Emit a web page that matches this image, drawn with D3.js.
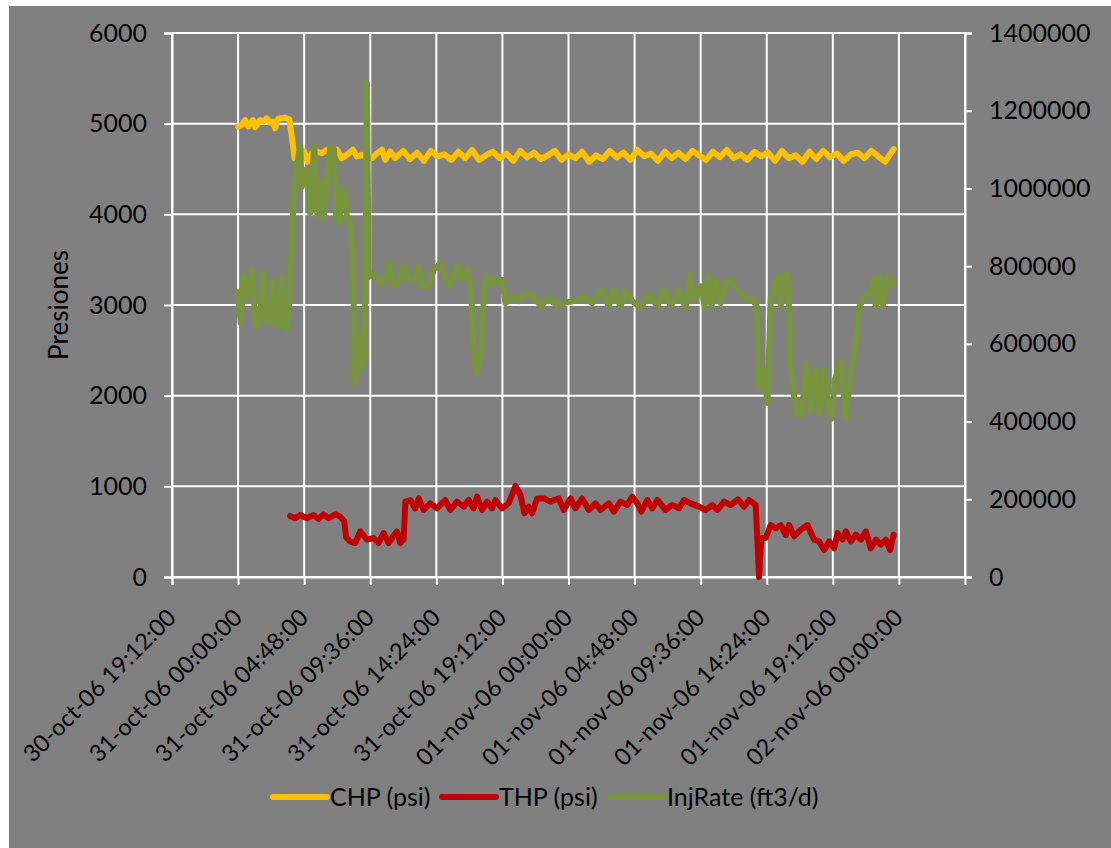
<!DOCTYPE html>
<html>
<head>
<meta charset="utf-8">
<script src="https://cdn.jsdelivr.net/npm/d3@7"></script>
<style>
  body { margin: 0; background: #fff; }
  svg { display: block; }
  text { font-family: Lato, "Open Sans", sans-serif; fill: #000; }
</style>
</head>
<body>
<svg class="chart" width="1111" height="848"></svg>
<script>
// hours after 31-oct-06 00:00
var chpHours = [0, 0.27, 0.51, 0.75, 1.07, 1.24, 1.6, 1.84, 2.08, 2.33, 2.52, 2.69, 2.93, 3.42, 3.73, 3.9, 4.1, 4.27, 4.51, 4.8,
    5.04, 5.36, 5.72, 6.08, 6.45, 6.81, 7.18, 7.54, 7.9, 8.34, 8.63, 9.0, 9.36, 9.72, 10.09, 10.45, 10.69, 11.05, 11.42,
    12.0, 12.5, 13.0, 13.5, 14.0, 14.5, 15.0, 15.5, 16.0, 16.5, 17.0, 17.5, 18.0, 18.5, 19.0, 19.5, 20.0, 20.5, 21.0, 21.5,
    22.0, 22.5, 23.0, 23.5, 24.0, 24.5, 25.0, 25.5, 26.0, 26.5, 27.0, 27.5, 28.0, 28.5, 29.0, 29.5, 30.0, 30.5, 31.0, 31.5,
    32.0, 32.5, 33.0, 33.5, 34.0, 34.5, 35.0, 35.5, 36.0, 36.5, 37.0, 37.5, 38.0, 38.5, 39.0, 39.5, 40.0, 40.5, 41.0, 41.5,
    42.0, 42.5, 43.0, 43.5, 44.0, 44.5, 45.0, 45.5, 46.0, 46.5, 47.0, 47.3, 47.62];
var chp = [4967, 4985, 5040, 4967, 5040, 4960, 5040, 5022, 5058, 5011, 5022, 4949, 5058, 5065, 5047, 4857, 4620, 4675, 4712, 4693,
    4580, 4675, 4693, 4675, 4712, 4638, 4712, 4620, 4656, 4712, 4638, 4656, 4620, 4620, 4675, 4712, 4600, 4693, 4620,
    4700, 4610, 4680, 4590, 4700, 4640, 4660, 4600, 4690, 4620, 4710, 4600, 4650, 4690, 4620, 4670, 4590, 4700, 4630, 4680,
    4610, 4650, 4700, 4600, 4660, 4620, 4690, 4580, 4650, 4610, 4700, 4630, 4680, 4600, 4710, 4640, 4670, 4590, 4690, 4620,
    4680, 4610, 4700, 4650, 4600, 4690, 4630, 4710, 4620, 4660, 4600, 4690, 4640, 4680, 4590, 4700, 4620, 4650, 4580, 4690,
    4610, 4700, 4630, 4670, 4590, 4660, 4680, 4620, 4700, 4640, 4580, 4650, 4720];

var thpHours = [3.78, 4.15, 4.51, 5.0, 5.48, 5.84, 6.21, 6.57, 7.05, 7.42, 7.71, 7.85, 8.15, 8.51, 8.87, 9.36, 9.84, 10.2, 10.57,
    10.93, 11.18, 11.54, 11.78, 12.02, 12.15, 12.51, 12.87, 13.12, 13.48, 13.96, 14.45, 15.05, 15.42, 15.9, 16.39, 16.75,
    17.11, 17.36, 17.72, 18.09, 18.45, 18.69, 19.18, 19.66, 20.15, 20.51, 20.8, 21.12, 21.36, 21.72, 22.21, 22.69, 23.3,
    23.66, 24.15, 24.51, 24.99, 25.48, 25.96, 26.33, 26.93, 27.3, 27.78, 28.27, 28.63, 29.0, 29.29, 29.72, 30.09, 30.45,
    31.05, 31.53, 32.02, 32.39, 32.87, 33.48, 33.96, 34.45, 34.81, 35.3, 35.78, 36.31, 36.75, 37.12, 37.6, 37.84, 38.01,
    38.33, 38.69, 39.05, 39.42, 39.78, 40.02, 40.39, 40.87, 41.36, 41.84, 42.2, 42.57, 42.94, 43.3, 43.54, 43.91, 44.15,
    44.51, 44.87, 45.24, 45.6, 45.96, 46.33, 46.69, 47.05, 47.36, 47.62];
var thp = [673, 648, 684, 648, 684, 640, 691, 648, 691, 666, 615, 438, 390, 375, 504, 412, 430, 375, 485,
    375, 430, 504, 375, 412, 831, 849, 757, 867, 739, 812, 757, 849, 739, 831, 776, 849,
    757, 886, 739, 831, 757, 849, 757, 812, 1004, 904, 702, 776, 702, 867, 867, 831, 867,
    739, 867, 757, 867, 739, 812, 739, 812, 721, 831, 794, 886, 812, 721, 849, 757, 849,
    739, 794, 757, 849, 812, 776, 739, 794, 739, 831, 794, 856, 776, 849, 794, 0, 430,
    430, 573, 537, 573, 463, 573, 449, 522, 573, 412, 393, 298, 393, 316, 485, 412, 504,
    393, 467, 412, 504, 316, 412, 357, 412, 298, 467];

var injHours = [0, 0.19, 0.39, 0.63, 1.0, 1.31, 1.6, 1.84, 2.08, 2.33, 2.52, 2.69, 2.93, 3.18, 3.35, 3.54, 3.73, 4.02, 4.27,
    4.51, 4.63, 4.87, 5.04, 5.24, 5.53, 5.77, 6.01, 6.21, 6.69, 6.98, 7.13, 7.37, 7.54, 7.73, 7.9, 8.2, 8.34, 8.51, 8.68,
    8.87, 9.07, 9.19, 9.36, 9.48, 9.84, 10.33, 10.69, 11.05, 11.3, 11.78, 12.02, 12.39, 12.75, 13.12, 13.36, 13.84, 14.2,
    14.69, 15.05, 15.42, 15.9, 16.27, 16.63, 16.92, 17.11, 17.36, 17.65, 17.89, 18.13, 18.45, 18.81, 19.18, 19.42, 19.9,
    20.39, 20.87, 21.48, 21.96, 22.57, 23.18, 23.66, 24.39, 25.12, 25.72, 26.2, 26.45, 26.93, 27.3, 27.78, 28.15, 28.63,
    29.24, 29.84, 30.45, 30.93, 31.42, 32.02, 32.51, 32.83, 33.11, 33.6, 33.89, 34.13, 34.38, 34.69, 35.05, 35.42, 35.78,
    36.27, 36.75, 37.36, 37.67, 37.84, 38.2, 38.45, 38.69, 38.93, 39.18, 39.42, 39.67, 39.96, 40.15, 40.39, 40.63, 40.92,
    41.31, 41.6, 41.96, 42.2, 42.57, 42.81, 43.1, 43.35, 43.78, 44.15, 44.51, 44.8, 45.04, 45.48, 45.96, 46.16, 46.33,
    46.57, 46.82, 47.13, 47.3, 47.62];
var injRate = [733000, 654000, 772000, 720000, 790000, 643000, 670000, 785000, 660000, 654000, 760000, 660000, 643000, 772000, 654000, 636000, 705000, 962000, 1055000,
    1112000, 1004000, 1047000, 1030000, 937000, 1112000, 927000, 1014000, 924000, 1104000, 1100000, 927000, 910000, 1001000, 995000, 927000, 914000, 790000, 499000, 618000,
    533000, 618000, 550000, 1271000, 772000, 782000, 756000, 765000, 808000, 748000, 765000, 800000, 765000, 765000, 800000, 748000, 748000, 790000,
    808000, 774000, 748000, 800000, 765000, 796000, 748000, 576000, 525000, 576000, 748000, 774000, 752000, 765000, 765000, 705000, 722000,
    710000, 731000, 722000, 697000, 718000, 697000, 705000, 710000, 722000, 705000, 727000, 739000, 697000, 739000, 697000, 735000, 710000,
    693000, 727000, 697000, 739000, 697000, 735000, 693000, 777000, 714000, 748000, 697000, 774000, 697000, 765000, 705000, 756000, 765000,
    739000, 718000, 714000, 697000, 489000, 533000, 448000, 722000, 731000, 774000, 697000, 777000, 774000, 540000, 463000, 415000, 420000,
    545000, 428000, 537000, 420000, 533000, 455000, 407000, 508000, 554000, 407000, 525000, 576000, 687000, 722000, 731000, 765000, 697000,
    774000, 697000, 774000, 748000, 760000];

var xTicks = ["2006-10-30T19:12:00Z", "2006-10-31T00:00:00Z", "2006-10-31T04:48:00Z", "2006-10-31T09:36:00Z",
    "2006-10-31T14:24:00Z", "2006-10-31T19:12:00Z", "2006-11-01T00:00:00Z", "2006-11-01T04:48:00Z",
    "2006-11-01T09:36:00Z", "2006-11-01T14:24:00Z", "2006-11-01T19:12:00Z", "2006-11-02T00:00:00Z"];
var xEnd = "2006-11-02T04:48:00Z";
var leftTicks = [0, 1000, 2000, 3000, 4000, 5000, 6000];
var rightTicks = [0, 200000, 400000, 600000, 800000, 1000000, 1200000, 1400000];

var series = [
    { name: "CHP (psi)", color: "#FFC000", hours: chpHours, values: chp, axis: "left" },
    { name: "THP (psi)", color: "#C00000", hours: thpHours, values: thp, axis: "left" },
    { name: "InjRate (ft3/d)", color: "#77933C", hours: injHours, values: injRate, axis: "right" }
];

var svg = d3.select(".chart"),
    margin = { top: 33, right: 146, bottom: 271, left: 172 },
    width = +svg.attr("width") - margin.left - margin.right,
    height = +svg.attr("height") - margin.top - margin.bottom;

var base = Date.UTC(2006, 9, 31, 0, 0, 0);
var tickDates = xTicks.map(function(s) { return new Date(s); });

var x = d3.scaleUtc().domain([tickDates[0], new Date(xEnd)]).range([0, width]),
    yL = d3.scaleLinear().domain([0, 6000]).range([height, 0]),
    yR = d3.scaleLinear().domain([0, 1400000]).range([height, 0]);

var fmt = d3.utcFormat("%d-%b-%y %H:%M:%S");
var fontSize = "25px";

svg.append("rect")
    .attr("x", 9).attr("y", 6)
    .attr("width", 1111 - 9).attr("height", 848 - 6)
    .attr("fill", "#808080");

var g = svg.append("g")
    .attr("transform", "translate(" + margin.left + "," + margin.top + ")");

// gridlines
g.append("g").attr("class", "grid")
    .selectAll("line")
    .data(tickDates.concat([new Date(xEnd)]))
    .enter().append("line")
    .attr("x1", function(d) { return x(d); })
    .attr("x2", function(d) { return x(d); })
    .attr("y1", 0).attr("y2", height)
    .attr("stroke", "#fff").attr("stroke-width", 2);

g.append("g").attr("class", "grid")
    .selectAll("line")
    .data(leftTicks)
    .enter().append("line")
    .attr("x1", 0).attr("x2", width)
    .attr("y1", function(d) { return yL(d); })
    .attr("y2", function(d) { return yL(d); })
    .attr("stroke", "#fff").attr("stroke-width", 2);

// axes
g.append("g")
    .attr("class", "axis axis--left")
    .call(d3.axisLeft(yL).tickValues(leftTicks).tickSize(8).tickPadding(17).tickFormat(d3.format("d")));

g.append("g")
    .attr("class", "axis axis--right")
    .attr("transform", "translate(" + width + ",0)")
    .call(d3.axisRight(yR).tickValues(rightTicks).tickSize(7).tickPadding(17).tickFormat(d3.format("d")));

var axB = g.append("g")
    .attr("class", "axis axis--x")
    .attr("transform", "translate(0," + height + ")")
    .call(d3.axisBottom(x).tickValues(tickDates).tickSize(8).tickFormat(function(d) { return fmt(d).toLowerCase(); }));

g.selectAll(".axis path, .axis line").attr("stroke", "#fff").attr("stroke-width", 2);
g.selectAll(".axis text").style("font-size", fontSize).attr("fill", "#000");

axB.selectAll("text")
    .attr("text-anchor", "end")
    .attr("dy", null)
    .attr("y", 0)
    .style("font-size", "23.5px")
    .attr("transform", "translate(5,42) rotate(-45)");

g.append("text")
    .attr("transform", "translate(-104," + (height / 2) + ") rotate(-90)")
    .attr("text-anchor", "middle")
    .style("font-size", "26px")
    .text("Presiones");

// series
series.forEach(function(s) {
    var yy = s.axis === "left" ? yL : yR;
    var line = d3.line()
        .x(function(h) { return x(new Date(base + h * 3600000)); })
        .y(function(h, i) { return yy(s.values[i]); });
    g.append("path")
        .datum(s.hours)
        .attr("class", "series")
        .attr("d", line)
        .attr("fill", "none")
        .attr("stroke", s.color)
        .attr("stroke-width", 6)
        .attr("stroke-linejoin", "round")
        .attr("stroke-linecap", "round");
});

// legend
var legendX = [273, 442, 610];
var legend = svg.append("g").attr("class", "legend");
series.forEach(function(s, i) {
    legend.append("line")
        .attr("x1", legendX[i]).attr("x2", legendX[i] + 54)
        .attr("y1", 797).attr("y2", 797)
        .attr("stroke", s.color).attr("stroke-width", 6)
        .attr("stroke-linecap", "round");
    legend.append("text")
        .attr("x", legendX[i] + 57).attr("y", 797)
        .attr("dy", "0.35em")
        .style("font-size", fontSize)
        .text(s.name);
});
</script>
</body>
</html>
